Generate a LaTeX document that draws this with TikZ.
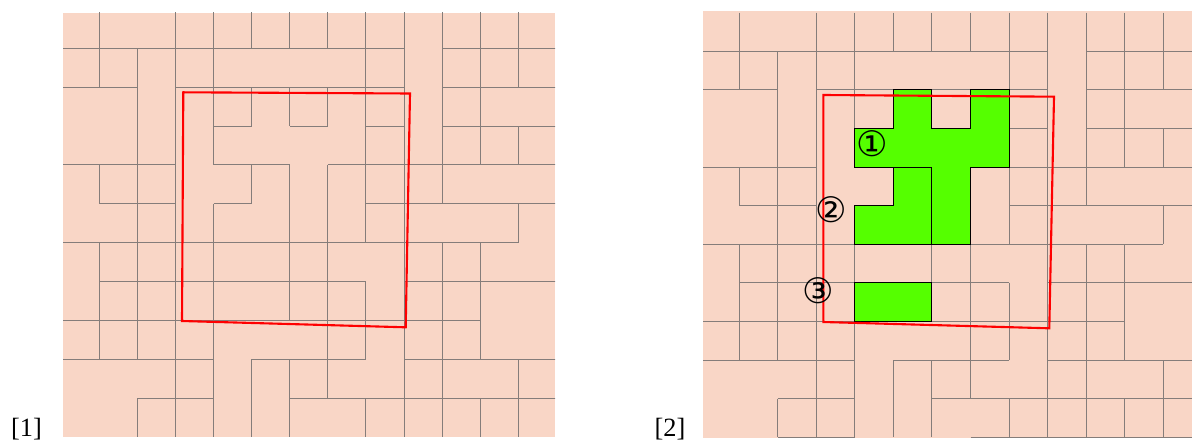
\documentclass[tikz,border=0pt]{standalone}
\usepackage{fontspec}
\setmainfont{Liberation Serif}
\newfontfamily\circfont{DejaVu Sans}
\usepackage{tikz}
\definecolor{floorpeach}{HTML}{F9D6C6}
\definecolor{seamgray}{HTML}{857D7A}
\definecolor{pickgreen}{HTML}{55FF00}
\definecolor{framered}{HTML}{FF0000}
\tikzset{
  floorfill/.style={fill=floorpeach, draw=none},
  seam/.style={draw=seamgray, line width=0.6pt},
  picked/.style={fill=pickgreen, draw=black, line width=0.6pt},
  redframe/.style={draw=framered, line width=1.2pt, line join=miter},
  tag/.style={font=\fontsize{15}{17}\selectfont, inner sep=0pt},
  circnum/.style={font=\circfont\fontsize{20}{22}\selectfont, inner sep=0pt}
}
% tile seams, in cell units: vertical ones per row, horizontal ones per boundary
\newcommand\drawseams{%
  \foreach \r/\cs in {0/{1,3,4,5,6,7,8,9,10,11,12},
                      1/{1,2,3,4,8,9,10,11,12},
                      2/{2,3,4,5,6,7,8,9,10,11},
                      3/{2,3,4,8,9,10,11,12},
                      4/{1,2,3,5,6,7,8,9,10},
                      5/{2,3,4,6,7,8,9,12},
                      6/{1,2,3,4,6,7,9,10,11},
                      7/{1,2,3,4,6,7,8,9,10,11},
                      8/{1,2,3,4,7,8,9,10,11},
                      9/{3,4,5,6,7,9,10,12},
                      10/{2,3,4,5,6,8,9,10,11,12}}
    {\foreach \c in \cs {\draw[seam] (\c,\r) -- (\c,\r+1);}}
  \foreach \r/\cs in {1/{0,1,2,3,4,5,6,7,8,10,11,12},
                      2/{0,1,3,4,5,6,7,8,10,11,12},
                      3/{4,6,8,10,11,12},
                      4/{0,1,2,4,5,7,8,9,10,11,12},
                      5/{1,2,4,8,9,10,11,12},
                      6/{0,1,2,3,4,5,6,7,8,9,10,11},
                      7/{1,2,3,4,5,6,7,9,10,11,12},
                      8/{0,1,2,3,4,5,6,7,8,9,10},
                      9/{0,1,2,3,5,6,7,9,10,11,12},
                      10/{2,3,6,7,8,9,10,11,12},
                      11/{2,3,7,8,9,10,11,12}}
    {\foreach \c in \cs {\draw[seam] (\c,\r) -- (\c+1,\r);}}
}

\begin{document}
\begin{tikzpicture}[x=0.02cm, y=-0.02cm]
  \useasboundingbox (0,0) rectangle (1192,442);

  % panel 1
  \begin{scope}
    \clip (63,13) rectangle (555,436.7);
    \fill[floorfill] (63,13) rectangle (555,437);
    \begin{scope}[shift={(61.2,9.4)}, x=0.762cm, y=-0.778cm]
      \drawseams
    \end{scope}
  \end{scope}
  \draw[redframe] (183.3,92.3) -- (410,93.5) -- (405.7,327.3) -- (182,321) -- cycle;
  \node[tag] (tag1) at (26.5,429) {[1]};

  % panel 2
  \begin{scope}
    \clip (703,11) rectangle (1192,438);
    \fill[floorfill] (703,11) rectangle (1192,438);
    \begin{scope}[shift={(700.7,12.7)}, x=0.771cm, y=-0.772cm]
      \drawseams
      \path[picked] (5,2) -- (6,2) -- (6,3) -- (7,3) -- (7,2) -- (8,2) -- (8,4) -- (7,4)
        -- (7,6) -- (6,6) -- (6,4) -- (4,4) -- (4,3) -- (5,3) -- cycle;
      \path[picked] (5,4) -- (6,4) -- (6,6) -- (4,6) -- (4,5) -- (5,5) -- cycle;
      \path[picked] (4,7) rectangle (6,8);
    \end{scope}
  \end{scope}
  \draw[redframe] (823.3,95) -- (1054,96.7) -- (1049.3,328.3) -- (823.3,322) -- cycle;
  \node[circnum] (num1) at (872,143.3) {①};
  \node[circnum] (num2) at (831.7,210) {②};
  \node[circnum] (num3) at (818.3,291) {③};
  \node[tag] (tag2) at (670,429) {[2]};
\end{tikzpicture}
\end{document}
